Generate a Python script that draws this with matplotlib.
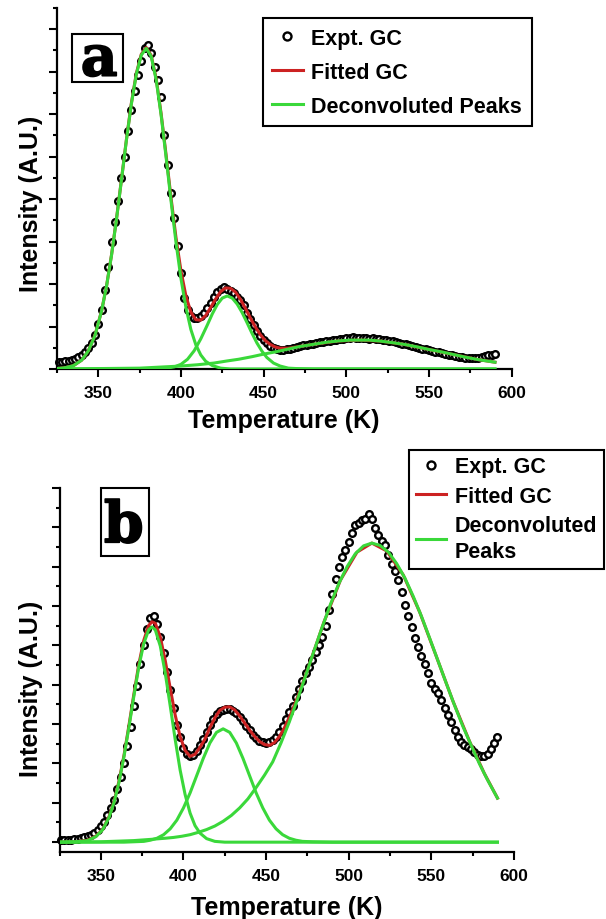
import matplotlib.pyplot as plt
import matplotlib.patheffects as pe
from matplotlib.patches import Rectangle

plt.rcParams['font.family'] = ['Liberation Sans', 'DejaVu Sans']
plt.rcParams['font.weight'] = 'bold'
plt.rcParams['axes.labelweight'] = 'bold'

# --- données (unités = graduations majeures de l'axe Y) ---
temp_expt = [326, 328, 330, 332, 334, 336, 338, 340, 342, 344, 346, 348, 350, 352, 354, 356, 358, 360, 362, 364,
             366, 368, 370, 372, 374, 376, 378, 380, 382, 384, 386, 388, 390, 392, 394, 396, 398, 400, 402, 404,
             406, 408, 410, 412, 414, 416, 418, 420, 422, 424, 426, 428, 430, 432, 434, 436, 438, 440, 442, 444,
             446, 448, 450, 452, 454, 456, 458, 460, 462, 464, 466, 468, 470, 472, 474, 476, 478, 480, 482, 484,
             486, 488, 490, 492, 494, 496, 498, 500, 502, 504, 506, 508, 510, 512, 514, 516, 518, 520, 522, 524,
             526, 528, 530, 532, 534, 536, 538, 540, 542, 544, 546, 548, 550, 552, 554, 556, 558, 560, 562, 564,
             566, 568, 570, 572, 574, 576, 578, 580, 582, 584, 586, 588, 590]

expt_a = [0.16, 0.17, 0.18, 0.19, 0.21, 0.24, 0.28, 0.33, 0.40, 0.49, 0.61, 0.80, 1.05, 1.40, 1.85, 2.40, 3.00, 3.45, 3.95, 4.50,
          5.00, 5.60, 6.10, 6.55, 6.92, 7.25, 7.55, 7.62, 7.45, 7.12, 6.80, 6.40, 5.50, 4.80, 4.15, 3.55, 2.90, 2.25, 1.68, 1.38,
          1.25, 1.21, 1.20, 1.24, 1.32, 1.44, 1.56, 1.70, 1.82, 1.89, 1.92, 1.88, 1.84, 1.78, 1.70, 1.63, 1.50, 1.33, 1.17, 1.03,
          0.90, 0.78, 0.68, 0.61, 0.55, 0.50, 0.46, 0.44, 0.44, 0.46, 0.48, 0.50, 0.52, 0.54, 0.56, 0.57, 0.59, 0.60, 0.62, 0.63,
          0.64, 0.66, 0.67, 0.68, 0.69, 0.70, 0.71, 0.72, 0.73, 0.75, 0.74, 0.73, 0.74, 0.72, 0.71, 0.72, 0.70, 0.70, 0.69, 0.68,
          0.67, 0.65, 0.63, 0.61, 0.60, 0.58, 0.56, 0.54, 0.52, 0.50, 0.48, 0.46, 0.44, 0.42, 0.40, 0.39, 0.37, 0.35, 0.34, 0.32,
          0.31, 0.29, 0.28, 0.27, 0.26, 0.25, 0.25, 0.26, 0.28, 0.31, 0.33, 0.34, 0.36]

expt_b = [0.05, 0.05, 0.06, 0.06, 0.07, 0.08, 0.10, 0.12, 0.15, 0.19, 0.24, 0.31, 0.40, 0.52, 0.68, 0.86, 1.08, 1.34, 1.66, 2.02,
          2.45, 2.92, 3.45, 3.98, 4.52, 5.02, 5.42, 5.70, 5.74, 5.55, 5.22, 4.80, 4.32, 3.86, 3.40, 2.98, 2.66, 2.40, 2.24, 2.19,
          2.22, 2.32, 2.46, 2.62, 2.80, 2.98, 3.14, 3.26, 3.33, 3.37, 3.39, 3.38, 3.34, 3.27, 3.18, 3.07, 2.95, 2.84, 2.73, 2.64,
          2.58, 2.54, 2.53, 2.55, 2.60, 2.68, 2.80, 2.95, 3.12, 3.30, 3.45, 3.68, 3.90, 4.10, 4.30, 4.45, 4.62, 4.82, 5.02, 5.22,
          5.50, 5.90, 6.30, 6.70, 7.00, 7.25, 7.42, 7.62, 7.85, 8.05, 8.12, 8.18, 8.22, 8.33, 8.20, 7.98, 7.80, 7.66, 7.55, 7.30,
          7.08, 6.88, 6.65, 6.35, 6.02, 5.75, 5.48, 5.20, 4.95, 4.72, 4.52, 4.30, 4.05, 3.90, 3.80, 3.62, 3.42, 3.22, 3.05, 2.85,
          2.68, 2.55, 2.48, 2.42, 2.38, 2.30, 2.22, 2.18, 2.20, 2.25, 2.38, 2.52, 2.68]

# courbe ajustée (a)
temp_fit_a = [325, 330, 335, 340, 344, 348, 352, 355, 358, 361, 364, 367, 370, 373, 376, 379, 382, 385, 388, 391,
              394, 397, 400, 403, 406, 409, 412, 415, 418, 421, 424, 427, 430, 433, 436, 439, 442, 445, 448, 451,
              454, 457, 460, 465, 470, 480, 495, 508, 520, 535, 550, 565, 580, 590]
fit_a = [0.01, 0.03, 0.08, 0.21, 0.43, 0.80, 1.37, 1.96, 2.69, 3.54, 4.46, 5.40, 6.26, 6.96, 7.41, 7.57, 7.38, 6.84, 6.01, 5.04,
         4.03, 3.09, 2.31, 1.72, 1.34, 1.16, 1.15, 1.26, 1.45, 1.65, 1.82, 1.91, 1.90, 1.81, 1.64, 1.43, 1.20, 0.99, 0.81, 0.67,
         0.58, 0.52, 0.49, 0.49, 0.52, 0.58, 0.66, 0.68, 0.66, 0.58, 0.46, 0.34, 0.22, 0.16]

# pics déconvolués (a)
temp_p1_a = [325, 330, 335, 340, 344, 348, 352, 355, 358, 361, 364, 367, 370, 373, 376, 379, 382, 385, 388, 391,
             394, 397, 400, 403, 406, 409, 412, 415, 419, 424, 430, 440, 590]
p1_a = [0.01, 0.03, 0.08, 0.21, 0.43, 0.79, 1.37, 1.96, 2.68, 3.53, 4.45, 5.39, 6.24, 6.94, 7.39, 7.55, 7.36, 6.81, 5.98, 4.99,
        3.96, 2.98, 2.13, 1.45, 0.93, 0.57, 0.33, 0.18, 0.08, 0.02, 0.00, 0.00, 0.00]
temp_p2_a = [325, 380, 390, 396, 400, 404, 408, 412, 416, 419, 422, 425, 428, 431, 434, 437, 440, 443, 446, 449,
             452, 456, 460, 465, 470, 480, 590]
p2_a = [0.00, 0.00, 0.01, 0.05, 0.11, 0.23, 0.43, 0.71, 1.04, 1.30, 1.52, 1.67, 1.72, 1.67, 1.53, 1.33, 1.09, 0.84, 0.61, 0.42,
        0.27, 0.14, 0.07, 0.02, 0.01, 0.00, 0.00]
temp_p3_a = [325, 350, 375, 400, 410, 420, 428, 435, 443, 450, 458, 465, 472, 480, 488, 495, 502, 508, 514, 520,
             528, 535, 543, 550, 558, 565, 572, 580, 590]
p3_a = [0.00, 0.01, 0.02, 0.07, 0.10, 0.14, 0.19, 0.23, 0.29, 0.35, 0.41, 0.47, 0.53, 0.58, 0.63, 0.66, 0.68, 0.68, 0.68, 0.66,
        0.62, 0.58, 0.52, 0.46, 0.40, 0.34, 0.28, 0.22, 0.16]

# courbe ajustée (b)
temp_fit_b = [325, 335, 342, 347, 351, 355, 358, 361, 364, 367, 370, 373, 376, 379, 381, 383, 386, 389, 392, 395,
              398, 401, 404, 407, 410, 413, 416, 419, 422, 425, 428, 431, 434, 437, 440, 443, 446, 449, 452, 455,
              458, 461, 465, 470, 475, 485, 495, 505, 514, 523, 533, 543, 553, 563, 573, 582, 590]
fit_b = [0.00, 0.01, 0.05, 0.15, 0.32, 0.65, 1.03, 1.55, 2.20, 2.96, 3.76, 4.52, 5.13, 5.51, 5.60, 5.56, 5.21, 4.61, 3.91, 3.23,
         2.68, 2.33, 2.18, 2.23, 2.41, 2.62, 2.91, 3.16, 3.35, 3.43, 3.44, 3.36, 3.21, 3.03, 2.85, 2.69, 2.56, 2.48, 2.46, 2.53,
         2.68, 2.90, 3.26, 3.79, 4.37, 5.59, 6.66, 7.37, 7.60, 7.40, 6.79, 5.84, 4.72, 3.59, 2.57, 1.75, 1.12]

# pics déconvolués (b)
temp_p1_b = [325, 335, 342, 347, 351, 355, 358, 361, 364, 367, 370, 373, 376, 379, 381, 383, 386, 389, 392, 395,
             398, 401, 404, 407, 410, 414, 419, 425, 435, 590]
p1_b = [0.00, 0.01, 0.04, 0.14, 0.31, 0.63, 1.01, 1.52, 2.17, 2.92, 3.71, 4.46, 5.05, 5.40, 5.47, 5.39, 4.98, 4.29, 3.46, 2.61,
        1.83, 1.21, 0.74, 0.42, 0.23, 0.09, 0.02, 0.00, 0.00, 0.00]
temp_p2_b = [325, 364, 370, 376, 380, 384, 388, 392, 396, 400, 404, 408, 412, 416, 420, 424, 428, 432, 436, 440,
             444, 448, 452, 456, 460, 464, 468, 472, 478, 490, 590]
p2_b = [0.00, 0.00, 0.01, 0.02, 0.05, 0.10, 0.19, 0.34, 0.56, 0.87, 1.25, 1.69, 2.13, 2.52, 2.79, 2.88, 2.79, 2.52, 2.13, 1.69,
        1.25, 0.87, 0.56, 0.34, 0.19, 0.10, 0.05, 0.02, 0.01, 0.00, 0.00]
temp_p3_b = [325, 350, 370, 380, 389, 394, 399, 404, 409, 414, 419, 424, 429, 434, 439, 444, 449, 454, 459, 464,
             469, 474, 479, 484, 489, 494, 499, 504, 509, 514, 519, 524, 529, 534, 539, 544, 549, 554, 559, 564,
             569, 574, 579, 584, 590]
p3_b = [0.00, 0.01, 0.04, 0.07, 0.10, 0.12, 0.15, 0.19, 0.25, 0.32, 0.41, 0.53, 0.68, 0.87, 1.10, 1.39, 1.70, 2.04, 2.52, 3.05,
        3.63, 4.24, 4.86, 5.47, 6.05, 6.57, 7.00, 7.33, 7.53, 7.60, 7.54, 7.37, 7.08, 6.71, 6.25, 5.74, 5.18, 4.61, 4.04, 3.48,
        2.95, 2.47, 2.00, 1.58, 1.12]

VERT = '#3ad83a'
ROUGE = '#cc2222'


def style_axes(ax, ymin, ymax, labelpad):
    ax.set_xlim(325, 600)
    ax.set_ylim(ymin, ymax)
    for s in ['top', 'right']:
        ax.spines[s].set_visible(False)
    for s in ['left', 'bottom']:
        ax.spines[s].set_linewidth(1.6)
    ax.set_xticks([350, 400, 450, 500, 550, 600])
    ax.set_xticks([325, 375, 425, 475, 525, 575], minor=True)
    n = int(ymax)
    ax.set_yticks(list(range(0, n + 1)))
    ax.set_yticks([k + 0.5 for k in range(0, n + 1) if k + 0.5 <= ymax], minor=True)
    ax.set_yticklabels([])
    ax.tick_params(which='major', direction='out', length=5.5, width=1.5, labelsize=12.5, pad=6)
    ax.tick_params(which='minor', direction='out', length=3, width=1.5)
    plt.setp(ax.get_xticklabels(), fontweight='bold')
    ax.set_xlabel('Temperature (K)', fontsize=18, labelpad=labelpad)
    ax.set_ylabel('Intensity (A.U.)', fontsize=18)


def tracer(ax, expt, t_fit, fit, pics, label_pics):
    ax.plot(temp_expt, expt, 'o', ms=4.8, mfc='white', mec='black', mew=1.7,
            label='Expt. GC', zorder=2, clip_on=False)
    ax.plot(t_fit, fit, color=ROUGE, lw=2.2, label='Fitted GC', zorder=3)
    for i, (t, y) in enumerate(pics):
        ax.plot(t, y, color=VERT, lw=2.2, zorder=4,
                label=label_pics if i == 0 else '_nolegend_')


fig = plt.figure(figsize=(6.06, 9.2), dpi=100)
ax_a = fig.add_axes([57 / 606, 1 - 370 / 920, 454.5 / 606, 361 / 920])
ax_b = fig.add_axes([59.5 / 606, 1 - 853 / 920, 454.5 / 606, 364 / 920])

# --- panneau a ---
tracer(ax_a, expt_a, temp_fit_a, fit_a,
       [(temp_p1_a, p1_a), (temp_p2_a, p2_a), (temp_p3_a, p3_a)], 'Deconvoluted Peaks')
style_axes(ax_a, 0, 8.5, 6)
ax_a.yaxis.set_label_coords(-0.03, 0.46)
leg_a = ax_a.legend(loc='upper left', bbox_to_anchor=(262.7 / 606, 1 - 19 / 920),
                    bbox_transform=fig.transFigure, fontsize=15.5, frameon=True, fancybox=False,
                    edgecolor='black', framealpha=1, borderpad=0.45, labelspacing=0.6,
                    handlelength=1.4, handletextpad=0.4, borderaxespad=0, numpoints=1, markerscale=1.2)
leg_a.get_frame().set_linewidth(1.5)

# --- panneau b ---
tracer(ax_b, expt_b, temp_fit_b, fit_b,
       [(temp_p1_b, p1_b), (temp_p2_b, p2_b), (temp_p3_b, p3_b)], 'Deconvoluted\nPeaks')
style_axes(ax_b, -0.25, 9, 9)
ax_b.yaxis.set_label_coords(-0.036, 0.45)
leg_b = ax_b.legend(loc='upper right', bbox_to_anchor=(603.5 / 606, 1 - 451 / 920),
                    bbox_transform=fig.transFigure, fontsize=15.5, frameon=True, fancybox=False,
                    edgecolor='black', framealpha=1, borderpad=0.3, labelspacing=0.38,
                    handlelength=1.4, handletextpad=0.4, borderaxespad=0, numpoints=1, markerscale=1.2)
leg_b.get_frame().set_linewidth(1.5)
for t in leg_b.get_texts():
    t.set_linespacing(1.35)

# --- étiquettes encadrées a / b ---
gras = [pe.withStroke(linewidth=1.2, foreground='black')]
fig.add_artist(Rectangle((71.7 / 606, 1 - 83.3 / 920), 51 / 606, 48.3 / 920,
                         transform=fig.transFigure, fill=False, lw=1.5, ec='black'))
fig.text(99.2 / 606, 1 - 76.7 / 920, 'a', family='DejaVu Serif', fontsize=41, weight='bold',
         ha='center', va='baseline', path_effects=gras)
fig.add_artist(Rectangle((101 / 606, 1 - 556.7 / 920), 48 / 606, 67.4 / 920,
                         transform=fig.transFigure, fill=False, lw=1.5, ec='black'))
fig.text(123.8 / 606, 1 - 543.3 / 920, 'b', family='DejaVu Serif', fontsize=41, weight='bold',
         ha='center', va='baseline', path_effects=gras)

fig.savefig('out.png', dpi=100, facecolor='white')
